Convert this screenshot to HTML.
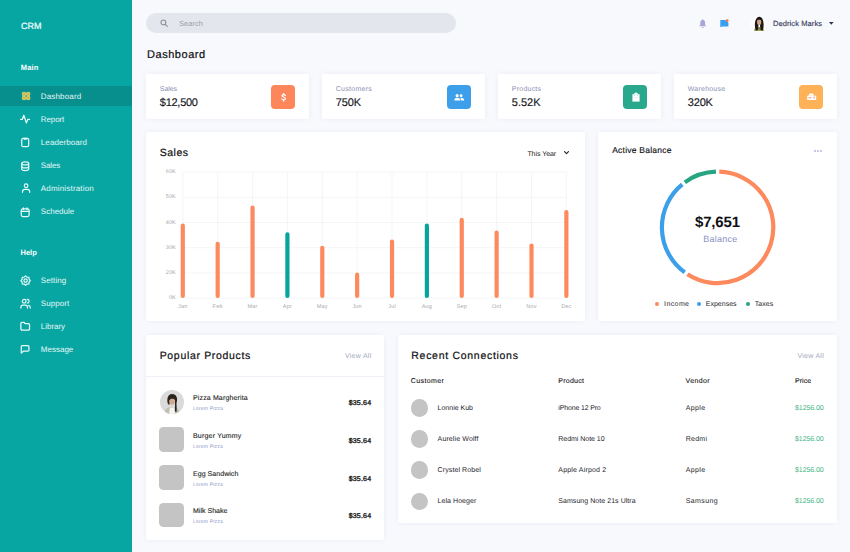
<!DOCTYPE html>
<html><head><meta charset="utf-8">
<style>
*{margin:0;padding:0;box-sizing:border-box}
html,body{width:850px;height:552px;overflow:hidden;background:#f8f9fd;font-family:"Liberation Sans",sans-serif;color:#1c1c22}
.a{position:absolute;white-space:nowrap;line-height:1;text-rendering:geometricPrecision}
.card{position:absolute;background:#fff;border-radius:2px;box-shadow:0 0 5px rgba(130,140,190,.10)}
svg{position:absolute;overflow:visible}
</style></head><body>

<div class="a" style="left:0;top:0;width:132px;height:552px;background:#08a6a3"></div>
<div class="a" style="left:0;top:86px;width:132px;height:20px;background:#078f8d"></div>
<div class="a" style="left:21px;top:22.10px;font-size:9px;color:#f4ffff;-webkit-text-stroke:0.2px #f4ffff;">CRM</div>
<div class="a" style="left:20.8px;top:64.10px;font-size:7.5px;color:#ffffff;letter-spacing:0.13px;font-weight:bold;">Main</div>
<div class="a" style="left:20.5px;top:249.10px;font-size:7.5px;color:#ffffff;font-weight:bold;">Help</div>
<div class="a" style="left:40.8px;top:93.10px;font-size:8px;color:#e3f6f6;letter-spacing:0.156px;">Dashboard</div>
<div class="a" style="left:40.8px;top:116.10px;font-size:8px;color:#e3f6f6;letter-spacing:-0.1px;">Report</div>
<div class="a" style="left:40.8px;top:139.10px;font-size:8px;color:#e3f6f6;letter-spacing:0.09px;">Leaderboard</div>
<div class="a" style="left:40.8px;top:162.10px;font-size:8px;color:#e3f6f6;letter-spacing:-0.15px;">Sales</div>
<div class="a" style="left:40.8px;top:185.10px;font-size:8px;color:#e3f6f6;letter-spacing:0.177px;">Administration</div>
<div class="a" style="left:40.8px;top:208.10px;font-size:8px;color:#e3f6f6;letter-spacing:0.02px;">Schedule</div>
<div class="a" style="left:40.8px;top:277.10px;font-size:8px;color:#e3f6f6;letter-spacing:0.1px;">Setting</div>
<div class="a" style="left:40.8px;top:300.10px;font-size:8px;color:#e3f6f6;letter-spacing:0.08px;">Support</div>
<div class="a" style="left:40.8px;top:323.10px;font-size:8px;color:#e3f6f6;letter-spacing:-0.03px;">Library</div>
<div class="a" style="left:40.8px;top:346.10px;font-size:8px;color:#e3f6f6;letter-spacing:0.01px;">Message</div>
<svg style="left:21.8px;top:91.8px" width="8.2" height="8" viewBox="0 0 16.4 16"><g fill="#d9b23a" stroke="#ebe07a" stroke-width="1.6"><rect x="0.8" y="0.8" width="6.4" height="6.2" rx="1.2"/><rect x="9.2" y="0.8" width="6.4" height="6.2" rx="1.2"/><rect x="0.8" y="9" width="6.4" height="6.2" rx="1.2"/><rect x="9.2" y="9" width="6.4" height="6.2" rx="1.2"/></g><rect x="3" y="3.5" width="2" height="4" fill="#8fc7a0" opacity=".6"/></svg>
<svg style="left:20.3px;top:113.8px" width="10.2" height="10.2" viewBox="0 0 24 24" fill="none" stroke="#e6fafa" stroke-width="3.0" stroke-linecap="round" stroke-linejoin="round"><polyline points="1.5 12.5 5.5 12.5 9 3 15 21 18.5 12.5 22.5 12.5"/></svg>
<svg style="left:20.2px;top:137.3px" width="10.4" height="10.4" viewBox="0 0 24 24" fill="none" stroke="#e6fafa" stroke-width="2.9" stroke-linecap="round" stroke-linejoin="round"><rect x="4" y="3" width="16" height="19.5" rx="3.5"/><path d="M9.5 2.5v2.5h5V2.5"/></svg>
<svg style="left:20.2px;top:160.6px" width="10.4" height="10.4" viewBox="0 0 24 24" fill="none" stroke="#e6fafa" stroke-width="2.9" stroke-linecap="round" stroke-linejoin="round"><ellipse cx="12" cy="5.5" rx="8" ry="3.5"/><path d="M20 12.5c0 1.9-3.6 3.5-8 3.5s-8-1.6-8-3.5"/><path d="M4 5.5v13c0 1.9 3.6 3.5 8 3.5s8-1.6 8-3.5v-13"/></svg>
<svg style="left:20.6px;top:183.2px" width="10.2" height="10.2" viewBox="0 0 24 24" fill="none" stroke="#e6fafa" stroke-width="2.9" stroke-linecap="round" stroke-linejoin="round"><path d="M3.5 22v-1.5a5.5 5.5 0 0 1 5.5-5.5h6a5.5 5.5 0 0 1 5.5 5.5V22"/><circle cx="12" cy="6.5" r="4.2"/></svg>
<svg style="left:20.4px;top:206.6px" width="10.4" height="10.4" viewBox="0 0 24 24" fill="none" stroke="#e6fafa" stroke-width="2.9" stroke-linecap="round" stroke-linejoin="round"><rect x="3" y="4.5" width="18" height="17.5" rx="3.5"/><line x1="16" y1="2" x2="16" y2="6"/><line x1="8" y1="2" x2="8" y2="6"/><line x1="3" y1="10" x2="21" y2="10"/></svg>
<svg style="left:19.6px;top:274.6px" width="11.2" height="11.2" viewBox="0 0 24 24" fill="none" stroke="#e6fafa" stroke-width="2.6" stroke-linecap="round" stroke-linejoin="round"><circle cx="12" cy="12" r="3.6"/><path d="M12.00 1.80 L15.06 4.61 L19.21 4.79 L19.39 8.94 L22.20 12.00 L19.39 15.06 L19.21 19.21 L15.06 19.39 L12.00 22.20 L8.94 19.39 L4.79 19.21 L4.61 15.06 L1.80 12.00 L4.61 8.94 L4.79 4.79 L8.94 4.61z"/></svg>
<svg style="left:19.7px;top:298.0px" width="11.2" height="11.2" viewBox="0 0 24 24" fill="none" stroke="#e6fafa" stroke-width="2.6" stroke-linecap="round" stroke-linejoin="round"><path d="M16 21.5v-1.5a4.5 4.5 0 0 0-4.5-4.5h-5A4.5 4.5 0 0 0 2 20v1.5"/><circle cx="9" cy="7" r="4"/><path d="M22 21.5v-1.5a4.5 4.5 0 0 0-3.3-4.3"/><path d="M15.5 2.8a4 4 0 0 1 0 8"/></svg>
<svg style="left:20.1px;top:321.4px" width="10.4" height="10.4" viewBox="0 0 24 24" fill="none" stroke="#e6fafa" stroke-width="2.9" stroke-linecap="round" stroke-linejoin="round"><path d="M22 18.5a2.5 2.5 0 0 1-2.5 2.5h-15A2.5 2.5 0 0 1 2 18.5v-13A2.5 2.5 0 0 1 4.5 3h5l2.2 3h7.8A2.5 2.5 0 0 1 22 8.5z"/></svg>
<svg style="left:20.3px;top:344.4px" width="10.2" height="10.2" viewBox="0 0 24 24" fill="none" stroke="#e6fafa" stroke-width="2.9" stroke-linecap="round" stroke-linejoin="round"><path d="M3 21.5V6.5A2.5 2.5 0 0 1 5.5 4h13A2.5 2.5 0 0 1 21 6.5v8a2.5 2.5 0 0 1-2.5 2.5H8z"/></svg>
<div class="a" style="left:146px;top:13px;width:310px;height:20px;border-radius:10px;background:#e4e6ee"></div>
<svg style="left:160.3px;top:18.9px" width="8.2" height="8.2" viewBox="0 0 24 24" fill="none" stroke="#8b8e9e" stroke-width="3.2" stroke-linecap="round"><circle cx="10" cy="10" r="7"/><line x1="15.5" y1="15.5" x2="21.5" y2="21.5"/></svg>
<div class="a" style="left:179px;top:20.10px;font-size:7.5px;color:#9c9fae;letter-spacing:0.05px;">Search</div>
<svg style="left:698.8px;top:18.6px" width="7.4" height="9.4" viewBox="0 0 15 19"><path d="M7.5 0.6c-.8 0-1.3.6-1.3 1.3C4 2.6 2.6 4.6 2.6 7v4.8L.6 14.8h13.8l-2-3V7c0-2.4-1.4-4.4-3.6-5.1 0-.7-.5-1.3-1.3-1.3z" fill="#a7a6d8"/><path d="M5.3 16.2a2.2 2.2 0 0 0 4.4 0z" fill="#a7a6d8"/></svg>
<svg style="left:719.8px;top:18.6px" width="8.6" height="8.4" viewBox="0 0 17.2 16.8"><path d="M0.6 2.2h10l6.2 4.6v8.2H4.2L0.6 16.6z" fill="#3a9ded"/><circle cx="14.4" cy="3" r="2.7" fill="#f86b45"/></svg>
<svg style="left:751px;top:16px" width="16" height="16" viewBox="0 0 32 32"><circle cx="16" cy="16" r="16" fill="#ffffff"/><path d="M6 30c0-5 3-8 10-8s10 3 10 8z" fill="#a3a15c"/><path d="M10 29C6 22 7 2 16.5 1.5S27 22 23 29l-4-1-1-10h-3l-1 10z" fill="#1c1916"/><ellipse cx="16.3" cy="12" rx="4.3" ry="6.2" fill="#cfa58a"/><path d="M13 23l3.3 5 3-5z" fill="#6d7a3a"/><path d="M11.5 9.5c0-4 2-6.5 5-6.5s5 2.5 5 6.5c-1.5-2.5-8.5-2.5-10 0z" fill="#1c1916"/></svg>
<div class="a" style="left:773px;top:20.10px;font-size:7.5px;color:#3b405c;letter-spacing:0.09px;-webkit-text-stroke:0.15px #3b405c;">Dedrick Marks</div>
<svg style="left:829.2px;top:22.2px" width="4.6" height="2.8" viewBox="0 0 5 3"><path d="M0 0h5L2.5 3z" fill="#2c3048"/></svg>
<div class="a" style="left:147px;top:50.10px;font-size:11px;color:#0f0f12;letter-spacing:0.54px;-webkit-text-stroke:0.2px #0f0f12;">Dashboard</div>
<div class="card" style="left:146px;top:74px;width:163px;height:45px"></div>
<div class="a" style="left:159.8px;top:86.10px;font-size:7px;color:#8d91b6;letter-spacing:-0.05px;">Sales</div>
<div class="a" style="left:159.8px;top:98.10px;font-size:11px;color:#15151a;letter-spacing:-0.27px;-webkit-text-stroke:0.15px #15151a;">$12,500</div>
<div class="a" style="left:271px;top:85px;width:24px;height:24px;border-radius:4px;background:#fd865a"></div>
<div class="card" style="left:322px;top:74px;width:163px;height:45px"></div>
<div class="a" style="left:335.8px;top:86.10px;font-size:7px;color:#8d91b6;letter-spacing:0.27px;">Customers</div>
<div class="a" style="left:335.8px;top:98.10px;font-size:11px;color:#15151a;letter-spacing:-0.17px;-webkit-text-stroke:0.15px #15151a;">750K</div>
<div class="a" style="left:447px;top:85px;width:24px;height:24px;border-radius:4px;background:#3d9fea"></div>
<div class="card" style="left:498px;top:74px;width:163px;height:45px"></div>
<div class="a" style="left:511.8px;top:86.10px;font-size:7px;color:#8d91b6;letter-spacing:0.23px;">Products</div>
<div class="a" style="left:511.8px;top:98.10px;font-size:11px;color:#15151a;letter-spacing:-0.01px;-webkit-text-stroke:0.15px #15151a;">5.52K</div>
<div class="a" style="left:623px;top:85px;width:24px;height:24px;border-radius:4px;background:#2aa88e"></div>
<div class="card" style="left:674px;top:74px;width:163px;height:45px"></div>
<div class="a" style="left:687.8px;top:86.10px;font-size:7px;color:#8d91b6;letter-spacing:0.22px;">Warehouse</div>
<div class="a" style="left:687.8px;top:98.10px;font-size:11px;color:#15151a;letter-spacing:-0.2px;-webkit-text-stroke:0.15px #15151a;">320K</div>
<div class="a" style="left:799px;top:85px;width:24px;height:24px;border-radius:4px;background:#fdb257"></div>
<svg style="left:280.8px;top:92.6px" width="5.2" height="8.8" viewBox="0 0 12 20" fill="none" stroke="#fff" stroke-width="2.9" stroke-linecap="round"><path d="M10 5.6C9.4 4 8 3.3 6 3.3 3.8 3.3 2.3 4.4 2.3 6c0 3.8 7.8 2.4 7.8 6.8 0 1.8-1.6 3.1-4.1 3.1-2.2 0-3.6-.9-4.2-2.5"/><line x1="6" y1="1.2" x2="6" y2="3.3"/><line x1="6" y1="16" x2="6" y2="18.6"/></svg>
<svg style="left:454.4px;top:93.6px" width="10.5" height="6.6" viewBox="0 0 21 13" fill="#fff"><circle cx="6.3" cy="3.2" r="3.1"/><circle cx="14.2" cy="3.4" r="2.8"/><path d="M0.8 13V11.5C0.8 9 3 7.3 6.5 7.3S12.2 9 12.2 11.5V13z"/><path d="M13 7.4c.3 0 .5-.1.8-.1 3.4 0 6.4 1.7 6.4 4.2V13h-6.6v-1.5c0-1.6-.2-2.9-.6-4.1z"/></svg>
<svg style="left:631.6px;top:92px" width="8" height="9.8" viewBox="0 0 16 19.6"><path d="M0.8 4.4h14.4v14.8H0.8z" fill="#fff"/><path d="M2.5 4.6L8 0.4l5.5 4.2z" fill="#fff"/><circle cx="5.2" cy="7.2" r="0.8" fill="#4fb79f"/><circle cx="10.8" cy="7.2" r="0.8" fill="#4fb79f"/><rect x="4.5" y="11" width="7" height="1" fill="#f4d6d0"/></svg>
<svg style="left:806.6px;top:93px" width="9.4" height="7" viewBox="0 0 18.8 14"><path d="M0.4 5.4h18v8.4h-18z" fill="#fff"/><path d="M3 5.6c0-3.2 2.2-5.2 5.5-5.2s5.5 2 5.5 5.2z" fill="#fff"/><rect x="2.8" y="8.4" width="6.2" height="2.2" fill="#f3a07f"/><rect x="13.2" y="6.8" width="2.4" height="4.6" fill="#f0a0a0"/></svg>
<div class="card" style="left:146px;top:132px;width:439px;height:189px"></div>
<div class="a" style="left:159.8px;top:148.10px;font-size:10.5px;color:#0f0f12;letter-spacing:0.49px;-webkit-text-stroke:0.2px #0f0f12;">Sales</div>
<div class="a" style="left:527.4px;top:151.10px;font-size:7px;color:#1c1c22;letter-spacing:-0.05px;">This Year</div>
<svg style="left:564.2px;top:151.2px" width="5" height="3.6" viewBox="0 0 10 7"><path d="M1 1l4 4 4-4" fill="none" stroke="#222" stroke-width="2.2" stroke-linecap="round" stroke-linejoin="round"/></svg>
<svg style="left:0;top:0" width="850" height="552"><line x1="182.8" y1="172.1" x2="566.37" y2="172.1" stroke="#f1f2f5" stroke-width="0.8"/><line x1="182.8" y1="197.29999999999998" x2="566.37" y2="197.29999999999998" stroke="#f1f2f5" stroke-width="0.8"/><line x1="182.8" y1="222.5" x2="566.37" y2="222.5" stroke="#f1f2f5" stroke-width="0.8"/><line x1="182.8" y1="247.7" x2="566.37" y2="247.7" stroke="#f1f2f5" stroke-width="0.8"/><line x1="182.8" y1="272.9" x2="566.37" y2="272.9" stroke="#f1f2f5" stroke-width="0.8"/><line x1="182.8" y1="298.1" x2="566.37" y2="298.1" stroke="#f1f2f5" stroke-width="0.8"/><line x1="182.8" y1="172.1" x2="182.8" y2="298.1" stroke="#f1f2f5" stroke-width="0.8"/><line x1="217.67000000000002" y1="172.1" x2="217.67000000000002" y2="298.1" stroke="#f1f2f5" stroke-width="0.8"/><line x1="252.54000000000002" y1="172.1" x2="252.54000000000002" y2="298.1" stroke="#f1f2f5" stroke-width="0.8"/><line x1="287.40999999999997" y1="172.1" x2="287.40999999999997" y2="298.1" stroke="#f1f2f5" stroke-width="0.8"/><line x1="322.28" y1="172.1" x2="322.28" y2="298.1" stroke="#f1f2f5" stroke-width="0.8"/><line x1="357.15" y1="172.1" x2="357.15" y2="298.1" stroke="#f1f2f5" stroke-width="0.8"/><line x1="392.02" y1="172.1" x2="392.02" y2="298.1" stroke="#f1f2f5" stroke-width="0.8"/><line x1="426.89" y1="172.1" x2="426.89" y2="298.1" stroke="#f1f2f5" stroke-width="0.8"/><line x1="461.76" y1="172.1" x2="461.76" y2="298.1" stroke="#f1f2f5" stroke-width="0.8"/><line x1="496.63" y1="172.1" x2="496.63" y2="298.1" stroke="#f1f2f5" stroke-width="0.8"/><line x1="531.5" y1="172.1" x2="531.5" y2="298.1" stroke="#f1f2f5" stroke-width="0.8"/><line x1="566.37" y1="172.1" x2="566.37" y2="298.1" stroke="#f1f2f5" stroke-width="0.8"/><line x1="182.8" y1="225.7" x2="182.8" y2="295.9" stroke="#fd8a5e" stroke-width="4.2" stroke-linecap="round"/><line x1="217.67000000000002" y1="243.79999999999998" x2="217.67000000000002" y2="295.9" stroke="#fd8a5e" stroke-width="4.2" stroke-linecap="round"/><line x1="252.54000000000002" y1="207.6" x2="252.54000000000002" y2="295.9" stroke="#fd8a5e" stroke-width="4.2" stroke-linecap="round"/><line x1="287.40999999999997" y1="234.4" x2="287.40999999999997" y2="295.9" stroke="#07a49f" stroke-width="4.2" stroke-linecap="round"/><line x1="322.28" y1="247.79999999999998" x2="322.28" y2="295.9" stroke="#fd8a5e" stroke-width="4.2" stroke-linecap="round"/><line x1="357.15" y1="274.70000000000005" x2="357.15" y2="295.9" stroke="#fd8a5e" stroke-width="4.2" stroke-linecap="round"/><line x1="392.02" y1="241.6" x2="392.02" y2="295.9" stroke="#fd8a5e" stroke-width="4.2" stroke-linecap="round"/><line x1="426.89" y1="225.7" x2="426.89" y2="295.9" stroke="#07a49f" stroke-width="4.2" stroke-linecap="round"/><line x1="461.76" y1="219.9" x2="461.76" y2="295.9" stroke="#fd8a5e" stroke-width="4.2" stroke-linecap="round"/><line x1="496.63" y1="232.5" x2="496.63" y2="295.9" stroke="#fd8a5e" stroke-width="4.2" stroke-linecap="round"/><line x1="531.5" y1="245.6" x2="531.5" y2="295.9" stroke="#fd8a5e" stroke-width="4.2" stroke-linecap="round"/><line x1="566.37" y1="212.2" x2="566.37" y2="295.9" stroke="#fd8a5e" stroke-width="4.2" stroke-linecap="round"/></svg>
<div class="a" style="left:140px;width:35.9px;text-align:right;top:170.10px;font-size:5.5px;color:#a9a9b0;letter-spacing:0.1px">60K</div>
<div class="a" style="left:140px;width:35.9px;text-align:right;top:195.10px;font-size:5.5px;color:#a9a9b0;letter-spacing:0.1px">50K</div>
<div class="a" style="left:140px;width:35.9px;text-align:right;top:221.10px;font-size:5.5px;color:#a9a9b0;letter-spacing:0.1px">40K</div>
<div class="a" style="left:140px;width:35.9px;text-align:right;top:246.10px;font-size:5.5px;color:#a9a9b0;letter-spacing:0.1px">30K</div>
<div class="a" style="left:140px;width:35.9px;text-align:right;top:271.10px;font-size:5.5px;color:#a9a9b0;letter-spacing:0.1px">20K</div>
<div class="a" style="left:140px;width:35.9px;text-align:right;top:296.10px;font-size:5.5px;color:#a9a9b0;letter-spacing:0.1px">0K</div>
<div class="a" style="left:167.80px;width:30px;text-align:center;top:305.10px;font-size:5.5px;color:#a9a9b0;letter-spacing:0.2px">Jan</div>
<div class="a" style="left:202.67px;width:30px;text-align:center;top:305.10px;font-size:5.5px;color:#a9a9b0;letter-spacing:0.2px">Feb</div>
<div class="a" style="left:237.54px;width:30px;text-align:center;top:305.10px;font-size:5.5px;color:#a9a9b0;letter-spacing:0.2px">Mar</div>
<div class="a" style="left:272.41px;width:30px;text-align:center;top:305.10px;font-size:5.5px;color:#a9a9b0;letter-spacing:0.2px">Apr</div>
<div class="a" style="left:307.28px;width:30px;text-align:center;top:305.10px;font-size:5.5px;color:#a9a9b0;letter-spacing:0.2px">May</div>
<div class="a" style="left:342.15px;width:30px;text-align:center;top:305.10px;font-size:5.5px;color:#a9a9b0;letter-spacing:0.2px">Jun</div>
<div class="a" style="left:377.02px;width:30px;text-align:center;top:305.10px;font-size:5.5px;color:#a9a9b0;letter-spacing:0.2px">Jul</div>
<div class="a" style="left:411.89px;width:30px;text-align:center;top:305.10px;font-size:5.5px;color:#a9a9b0;letter-spacing:0.2px">Aug</div>
<div class="a" style="left:446.76px;width:30px;text-align:center;top:305.10px;font-size:5.5px;color:#a9a9b0;letter-spacing:0.2px">Sep</div>
<div class="a" style="left:481.63px;width:30px;text-align:center;top:305.10px;font-size:5.5px;color:#a9a9b0;letter-spacing:0.2px">Oct</div>
<div class="a" style="left:516.50px;width:30px;text-align:center;top:305.10px;font-size:5.5px;color:#a9a9b0;letter-spacing:0.2px">Nov</div>
<div class="a" style="left:551.37px;width:30px;text-align:center;top:305.10px;font-size:5.5px;color:#a9a9b0;letter-spacing:0.2px">Dec</div>
<div class="card" style="left:598px;top:132px;width:239px;height:189px"></div>
<div class="a" style="left:612.2px;top:146.10px;font-size:8.5px;color:#0f0f12;letter-spacing:0.23px;-webkit-text-stroke:0.15px #0f0f12;">Active Balance</div>
<svg style="left:814px;top:150.2px" width="8" height="2" viewBox="0 0 8 2" fill="#7e82c9"><circle cx="1" cy="1" r="0.8"/><circle cx="4" cy="1" r="0.8"/><circle cx="7" cy="1" r="0.8"/></svg>
<svg style="left:0;top:0" width="850" height="552"><path d="M719.25 171.72A55.7 55.7 0 1 1 687.43 274.22" fill="none" stroke="#fd8a5e" stroke-width="4.2"/><path d="M684.70 272.35A55.7 55.7 0 0 1 682.25 184.36" fill="none" stroke="#3b9fea" stroke-width="4.2"/><path d="M684.86 182.34A55.7 55.7 0 0 1 715.95 171.72" fill="none" stroke="#27a583" stroke-width="4.2"/></svg>
<div class="a" style="left:695px;top:215.10px;font-size:15px;color:#111114;letter-spacing:-0.16px;font-weight:bold;">$7,651</div>
<div class="a" style="left:703.3px;top:235.10px;font-size:9px;color:#8a93c2;letter-spacing:0.25px;">Balance</div>
<div class="a" style="left:655.40px;top:301.8px;width:4px;height:4px;border-radius:2px;background:#fd8a5e"></div>
<div class="a" style="left:664.1px;top:301.10px;font-size:7px;color:#2a2a33;letter-spacing:0.39px;">Income</div>
<div class="a" style="left:696.90px;top:301.8px;width:4px;height:4px;border-radius:2px;background:#3b9fea"></div>
<div class="a" style="left:705.8px;top:301.10px;font-size:7px;color:#2a2a33;">Expenses</div>
<div class="a" style="left:745.90px;top:301.8px;width:4px;height:4px;border-radius:2px;background:#27a583"></div>
<div class="a" style="left:754.7px;top:301.10px;font-size:7px;color:#2a2a33;letter-spacing:0.05px;">Taxes</div>
<div class="card" style="left:146px;top:335px;width:238px;height:205px"></div>
<div class="a" style="left:146px;top:376px;width:238px;height:1px;background:#eef0f7"></div>
<div class="a" style="left:159.7px;top:351.10px;font-size:10.5px;color:#0f0f12;letter-spacing:0.67px;-webkit-text-stroke:0.2px #0f0f12;">Popular Products</div>
<div class="a" style="left:345px;top:353.10px;font-size:7px;color:#a5a9ba;letter-spacing:0.26px;">View All</div>
<svg style="left:159.5px;top:389.6px" width="24" height="24" viewBox="0 0 48 48"><defs><clipPath id="pc"><circle cx="24" cy="24" r="24"/></clipPath></defs><g clip-path="url(#pc)"><rect width="48" height="48" fill="#dadada"/><path d="M9 48c0-9 5-14 15-14s15 5 15 14z" fill="#c3bfae"/><path d="M18 48l2-13h8l2 13z" fill="#f5f5f3"/><path d="M16 28c-3-8-1-20 8-20s12 8 9 18c0 6 1 12 0 18l-3-1V20H19v10z" fill="#2a2420"/><ellipse cx="24.5" cy="22.5" rx="5.2" ry="7" fill="#d2a88e"/><path d="M18.5 20c0-6 2.5-8.5 6.5-8.5s6.5 2.5 6 8.5c-2-3.5-10-3.5-12.5 0z" fill="#2a2420"/></g></svg>
<div class="a" style="left:193px;top:395.10px;font-size:7px;color:#1f1f26;letter-spacing:0.14px;-webkit-text-stroke:0.12px #1f1f26;">Pizza Margherita</div>
<div class="a" style="left:193px;top:407.10px;font-size:5px;color:#8e9acb;letter-spacing:0.2px;">Lorem Pizza</div>
<div class="a" style="left:348.7px;top:400.10px;font-size:7px;color:#1b1b20;letter-spacing:0.2px;-webkit-text-stroke:0.35px #1b1b20;">$35.64</div>
<div class="a" style="left:159.2px;top:427.35px;width:24.5px;height:24.5px;border-radius:4.5px;background:#c4c4c4"></div>
<div class="a" style="left:193px;top:433.10px;font-size:7px;color:#1f1f26;letter-spacing:0.2px;-webkit-text-stroke:0.12px #1f1f26;">Burger Yummy</div>
<div class="a" style="left:193px;top:445.10px;font-size:5px;color:#8e9acb;letter-spacing:0.2px;">Lorem Pizza</div>
<div class="a" style="left:348.7px;top:438.10px;font-size:7px;color:#1b1b20;letter-spacing:0.2px;-webkit-text-stroke:0.35px #1b1b20;">$35.64</div>
<div class="a" style="left:159.2px;top:465.10px;width:24.5px;height:24.5px;border-radius:4.5px;background:#c4c4c4"></div>
<div class="a" style="left:193px;top:471.10px;font-size:7px;color:#1f1f26;letter-spacing:0.05px;-webkit-text-stroke:0.12px #1f1f26;">Egg Sandwich</div>
<div class="a" style="left:193px;top:483.10px;font-size:5px;color:#8e9acb;letter-spacing:0.2px;">Lorem Pizza</div>
<div class="a" style="left:348.7px;top:476.10px;font-size:7px;color:#1b1b20;letter-spacing:0.2px;-webkit-text-stroke:0.35px #1b1b20;">$35.64</div>
<div class="a" style="left:159.2px;top:502.85px;width:24.5px;height:24.5px;border-radius:4.5px;background:#c4c4c4"></div>
<div class="a" style="left:193px;top:508.10px;font-size:7px;color:#1f1f26;letter-spacing:0.02px;-webkit-text-stroke:0.12px #1f1f26;">Milk Shake</div>
<div class="a" style="left:193px;top:520.10px;font-size:5px;color:#8e9acb;letter-spacing:0.2px;">Lorem Pizza</div>
<div class="a" style="left:348.7px;top:513.10px;font-size:7px;color:#1b1b20;letter-spacing:0.2px;-webkit-text-stroke:0.35px #1b1b20;">$35.64</div>
<div class="card" style="left:398px;top:335px;width:439px;height:188px"></div>
<div class="a" style="left:411.3px;top:351.10px;font-size:10.5px;color:#0f0f12;letter-spacing:0.71px;-webkit-text-stroke:0.2px #0f0f12;">Recent Connections</div>
<div class="a" style="left:797.5px;top:353.10px;font-size:7px;color:#a5a9ba;letter-spacing:0.26px;">View All</div>
<div class="a" style="left:410.8px;top:378.10px;font-size:7px;color:#141418;letter-spacing:0.39px;-webkit-text-stroke:0.1px #141418;">Customer</div>
<div class="a" style="left:558.2px;top:378.10px;font-size:7px;color:#141418;letter-spacing:0.28px;-webkit-text-stroke:0.1px #141418;">Product</div>
<div class="a" style="left:685.6px;top:378.10px;font-size:7px;color:#141418;letter-spacing:0.38px;-webkit-text-stroke:0.1px #141418;">Vendor</div>
<div class="a" style="left:794.9px;top:378.10px;font-size:7px;color:#141418;letter-spacing:0.1px;-webkit-text-stroke:0.1px #141418;">Price</div>
<div class="a" style="left:410.7px;top:399.25px;width:17.7px;height:17.7px;border-radius:50%;background:#c4c4c4"></div>
<div class="a" style="left:437.6px;top:405.10px;font-size:7px;color:#25252c;letter-spacing:-0.01px;">Lonnie Kub</div>
<div class="a" style="left:558.3px;top:405.10px;font-size:7px;color:#25252c;letter-spacing:-0.16px;">iPhone 12 Pro</div>
<div class="a" style="left:685.7px;top:405.10px;font-size:7px;color:#25252c;letter-spacing:0.37px;">Apple</div>
<div class="a" style="left:795px;top:405.10px;font-size:7px;color:#3fb37f;letter-spacing:-0.08px;">$1256.00</div>
<div class="a" style="left:410.7px;top:430.35px;width:17.7px;height:17.7px;border-radius:50%;background:#c4c4c4"></div>
<div class="a" style="left:437.6px;top:436.10px;font-size:7px;color:#25252c;letter-spacing:0.12px;">Aurelie Wolff</div>
<div class="a" style="left:558.3px;top:436.10px;font-size:7px;color:#25252c;letter-spacing:-0.03px;">Redmi Note 10</div>
<div class="a" style="left:685.7px;top:436.10px;font-size:7px;color:#25252c;letter-spacing:0.28px;">Redmi</div>
<div class="a" style="left:795px;top:436.10px;font-size:7px;color:#3fb37f;letter-spacing:-0.08px;">$1256.00</div>
<div class="a" style="left:410.7px;top:461.45px;width:17.7px;height:17.7px;border-radius:50%;background:#c4c4c4"></div>
<div class="a" style="left:437.6px;top:467.10px;font-size:7px;color:#25252c;letter-spacing:0.1px;">Crystel Robel</div>
<div class="a" style="left:558.3px;top:467.10px;font-size:7px;color:#25252c;letter-spacing:0.18px;">Apple Airpod 2</div>
<div class="a" style="left:685.7px;top:467.10px;font-size:7px;color:#25252c;letter-spacing:0.37px;">Apple</div>
<div class="a" style="left:795px;top:467.10px;font-size:7px;color:#3fb37f;letter-spacing:-0.08px;">$1256.00</div>
<div class="a" style="left:410.7px;top:492.55px;width:17.7px;height:17.7px;border-radius:50%;background:#c4c4c4"></div>
<div class="a" style="left:437.6px;top:498.10px;font-size:7px;color:#25252c;letter-spacing:0.05px;">Lela Hoeger</div>
<div class="a" style="left:558.3px;top:498.10px;font-size:7px;color:#25252c;letter-spacing:0.05px;">Samsung Note 21s Ultra</div>
<div class="a" style="left:685.7px;top:498.10px;font-size:7px;color:#25252c;letter-spacing:0.4px;">Samsung</div>
<div class="a" style="left:795px;top:498.10px;font-size:7px;color:#3fb37f;letter-spacing:-0.08px;">$1256.00</div>
</body></html>
